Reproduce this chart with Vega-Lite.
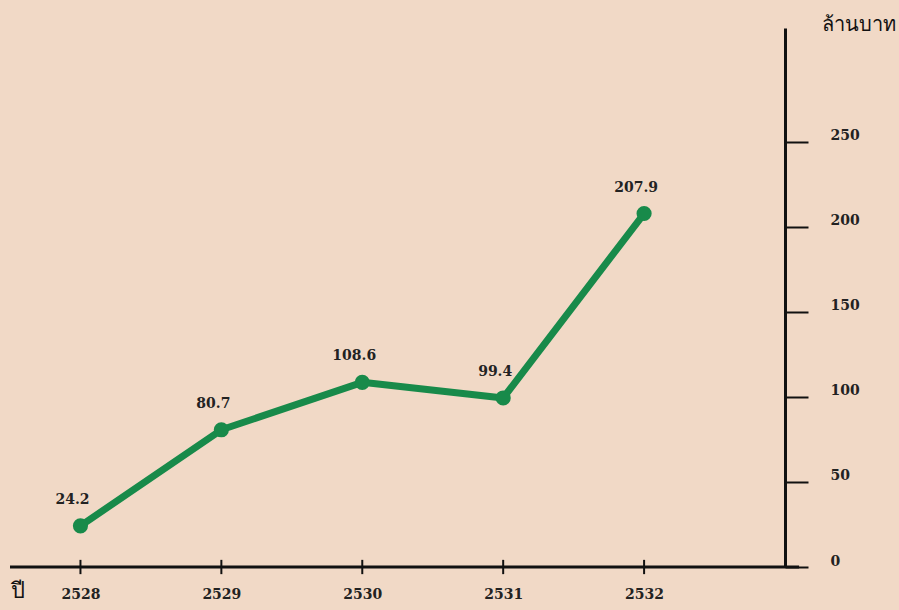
{
  "$schema": "https://vega.github.io/schema/vega-lite/v6.json",
  "width": 775,
  "height": 539,
  "autosize": {"type": "none"},
  "padding": {"left": 10, "top": 28, "right": 114, "bottom": 43},
  "background": "#f1d9c6",
  "config": {"view": {"stroke": null}, "font": "DejaVu Serif"},
  "data": {"values": [
    {"year": 2528, "value": 24.2},
    {"year": 2529, "value": 80.7},
    {"year": 2530, "value": 108.6},
    {"year": 2531, "value": 99.4},
    {"year": 2532, "value": 207.9}
  ]},
  "encoding": {
    "x": {"field": "year", "type": "quantitative", "scale": {"domain": [2527.5, 2533], "nice": false, "zero": false},
      "axis": {"domain": false, "ticks": false, "grid": false, "values": [2528, 2529, 2530, 2531, 2532], "format": "d",
        "labelPadding": 20, "labelFontSize": 14, "labelColor": "#222", "labelFontWeight": "bold",
        "title": "ปี", "titleX": 0, "titleY": 30, "titleAlign": "left", "titleBaseline": "alphabetic",
        "titleFontSize": 22, "titleFontWeight": "normal", "titleColor": "#111"}},
    "y": {"field": "value", "type": "quantitative", "scale": {"domain": [0, 317], "nice": false},
      "axis": {"orient": "right", "values": [0, 50, 100, 150, 200, 250], "grid": false,
        "domainColor": "#111", "domainWidth": 3, "tickColor": "#111", "tickWidth": 2, "tickSize": 23,
        "labelPadding": 22, "labelOffset": -6, "labelFontSize": 14, "labelColor": "#222", "labelFontWeight": "bold",
        "title": "ล้านบาท", "titleAngle": 0, "titleX": 73, "titleY": -4, "titleAlign": "center", "titleBaseline": "middle",
        "titleFontSize": 20, "titleFontWeight": "normal", "titleColor": "#111"}}
  },
  "layer": [
    {
      "data": {"values": [{"year": 2527.5, "year2": 2533.1, "value": 0}]},
      "mark": {"type": "rule", "stroke": "#111", "strokeWidth": 3},
      "encoding": {"x2": {"field": "year2"}}
    },
    {
      "data": {"values": [
        {"year": 2528, "lo": -4.2, "hi": 4.2},
        {"year": 2529, "lo": -4.2, "hi": 4.2},
        {"year": 2530, "lo": -4.2, "hi": 4.2},
        {"year": 2531, "lo": -4.2, "hi": 4.2},
        {"year": 2532, "lo": -4.2, "hi": 4.2}
      ]},
      "mark": {"type": "rule", "stroke": "#111", "strokeWidth": 2},
      "encoding": {
        "y": {"field": "lo", "type": "quantitative", "scale": {"domain": [0, 317], "nice": false}},
        "y2": {"field": "hi"}
      }
    },
    {"mark": {"type": "line", "color": "#188a4a", "strokeWidth": 7, "strokeCap": "round", "strokeJoin": "round"}},
    {"mark": {"type": "circle", "color": "#188a4a", "size": 230, "opacity": 1}},
    {"mark": {"type": "text", "dx": -8, "dy": -26, "fontSize": 14, "color": "#222", "fontWeight": "bold"},
      "encoding": {"text": {"field": "value", "type": "quantitative", "format": ".1f"}}}
  ]
}
